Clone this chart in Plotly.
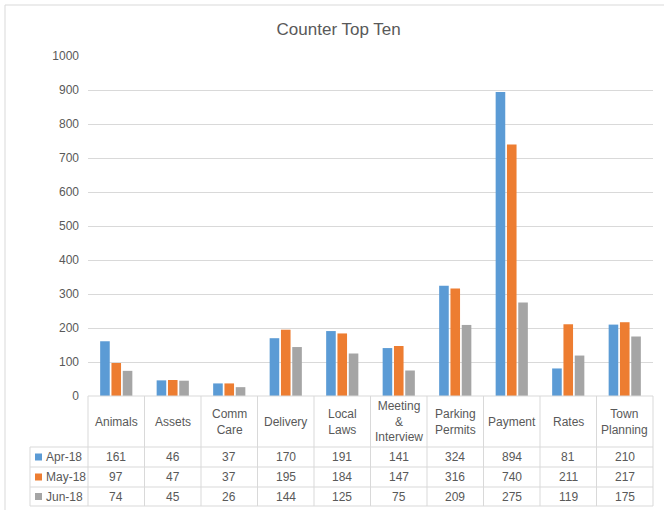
import plotly.graph_objects as go

categories = ["Animals", "Assets", "Comm Care", "Delivery", "Local Laws",
              "Meeting & Interview", "Parking Permits", "Payment", "Rates", "Town Planning"]
header_labels = ["Animals", "Assets", "Comm<br>Care", "Delivery", "Local<br>Laws",
                 "Meeting<br>&<br>Interview", "Parking<br>Permits", "Payment", "Rates", "Town<br>Planning"]
series_names = ["Apr-18", "May-18", "Jun-18"]
apr18 = [161, 46, 37, 170, 191, 141, 324, 894, 81, 210]
may18 = [97, 47, 37, 195, 184, 147, 316, 740, 211, 217]
jun18 = [74, 45, 26, 144, 125, 75, 209, 275, 119, 175]
y_ticks = [0, 100, 200, 300, 400, 500, 600, 700, 800, 900, 1000]

series_values = [apr18, may18, jun18]
colors = ["#5B9BD5", "#ED7D31", "#A5A5A5"]

W, H = 664, 510
L, R, T, B = 88, 653, 56, 396  # plot area in pixels
PW, PH = R - L, B - T

def px(xp):
    return (xp - L) / PW

def py(yp):
    return (B - yp) / PH

FONT = "Liberation Sans, Arial, sans-serif"
TXT = "#595959"
GRID = "#D9D9D9"

fig = go.Figure()
xs = list(range(len(categories)))
for name, vals, col in zip(series_names, series_values, colors):
    fig.add_trace(go.Bar(x=xs, y=vals, name=name, marker=dict(color=col, line=dict(width=0)),
                         hoverinfo="y+name"))

shapes = []
annotations = []

# outer frame
shapes.append(dict(type="rect", xref="paper", yref="paper", x0=px(5), x1=px(700),
                   y0=py(560), y1=py(5), line=dict(color="#D9D9D9", width=1), layer="below"))

# table horizontal lines
row_lines = [447, 467, 487, 506]
for yl in row_lines:
    shapes.append(dict(type="line", xref="paper", yref="paper", x0=px(30), x1=px(R),
                       y0=py(yl), y1=py(yl), line=dict(color=GRID, width=1)))
# x-axis/top of table line
shapes.append(dict(type="line", xref="paper", yref="paper", x0=0, x1=1,
                   y0=0, y1=0, line=dict(color=GRID, width=1)))
# vertical lines
n = len(categories)
for i in range(n + 1):
    xl = L + PW * i / n
    shapes.append(dict(type="line", xref="paper", yref="paper", x0=px(xl), x1=px(xl),
                       y0=py(B), y1=py(506), line=dict(color=GRID, width=1)))
shapes.append(dict(type="line", xref="paper", yref="paper", x0=px(30), x1=px(30),
                   y0=py(447), y1=py(506), line=dict(color=GRID, width=1)))

# header labels
for i, lab in enumerate(header_labels):
    annotations.append(dict(x=i, xref="x", y=py(421.5), yref="paper", text=lab,
                            showarrow=False, font=dict(family=FONT, size=12, color=TXT),
                            xanchor="center", yanchor="middle"))

# data rows
row_centers = [457, 477, 496.5]
for r, (name, vals, col) in enumerate(zip(series_names, series_values, colors)):
    yc = row_centers[r]
    shapes.append(dict(type="rect", xref="paper", yref="paper", x0=px(35), x1=px(42),
                       y0=py(yc + 3.5), y1=py(yc - 3.5), fillcolor=col, line=dict(width=0)))
    annotations.append(dict(x=px(44), xref="paper", y=py(yc), yref="paper", text=name,
                            showarrow=False, font=dict(family=FONT, size=12, color=TXT),
                            xanchor="left", yanchor="middle"))
    for i, v in enumerate(vals):
        annotations.append(dict(x=i, xref="x", y=py(yc), yref="paper", text=str(v),
                                showarrow=False, font=dict(family=FONT, size=12, color=TXT),
                                xanchor="center", yanchor="middle"))

fig.update_layout(
    width=W, height=H,
    margin=dict(l=L, r=W - R, t=T, b=H - B, pad=0),
    paper_bgcolor="white", plot_bgcolor="white",
    title=dict(text="Counter Top Ten", x=0.51, xanchor="center", y=1 - 29 / H, yanchor="middle",
               font=dict(family=FONT, size=17, color=TXT)),
    showlegend=False,
    barmode="group", bargap=0.4, bargroupgap=0.15,
    xaxis=dict(range=[-0.5, n - 0.5], showticklabels=False, showgrid=False, zeroline=False,
               showline=False, ticks="", fixedrange=True),
    yaxis=dict(range=[0, 1000], tickvals=y_ticks, showgrid=True, gridcolor=GRID, gridwidth=1,
               zeroline=False, showline=False, ticks="", ticklabelstandoff=8,
               tickfont=dict(family=FONT, size=12, color=TXT), fixedrange=True),
    shapes=shapes, annotations=annotations,
)

fig.write_html("out.html", config={"displayModeBar": False},
               post_script="document.body.style.margin='0';document.body.style.padding='0';"
                           "document.documentElement.style.overflow='hidden';")
